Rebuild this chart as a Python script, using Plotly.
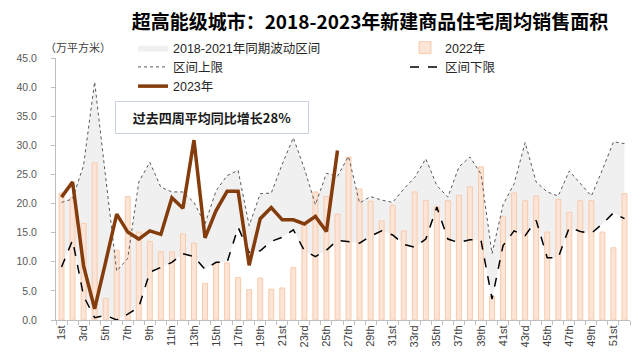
import plotly.graph_objects as go

# ---- data ----
week_labels = ["1st", "2nd", "3rd"] + [f"{i}th" for i in range(4, 21)] + ["21st", "22nd", "23rd"] + \
              [f"{i}th" for i in range(24, 31)] + ["31st", "32nd", "33rd"] + [f"{i}th" for i in range(34, 41)] + \
              ["41st", "42nd", "43rd"] + [f"{i}th" for i in range(44, 51)] + ["51st", "52nd"]
tick_labels = ["1st", "3rd", "5th", "7th", "9th", "11th", "13th", "15th", "17th", "19th", "21st", "23rd",
               "25th", "27th", "29th", "31st", "33rd", "35th", "37th", "39th", "41st", "43rd", "45th",
               "47th", "49th", "51st"]

sales_2022 = [21.8, 21.0, 16.6, 27.0, 3.7, 12.0, 21.2, 15.1, 13.5, 11.7, 11.7, 14.8, 13.2, 6.3, 9.8, 9.8,
              7.3, 5.2, 7.2, 5.3, 5.5, 9.0, 16.7, 22.0, 21.2, 18.2, 28.0, 22.5, 20.4, 17.0, 19.7, 15.3,
              22.0, 20.5, 19.4, 20.5, 21.4, 22.9, 26.3, 4.0, 17.8, 21.8, 20.5, 21.3, 15.1, 20.7, 18.5,
              20.5, 20.5, 15.1, 12.4, 21.7]
upper_2018_2021 = [20.2, 20.8, 26.6, 40.9, 24.5, 8.4, 10.6, 23.7, 27.1, 22.8, 22.0, 22.0, 20.2, 16.5,
                   22.2, 24.8, 25.7, 16.2, 21.7, 21.8, 26.8, 31.3, 26.0, 19.8, 25.2, 24.7, 28.1, 20.1,
                   21.2, 20.6, 20.2, 22.5, 24.5, 27.7, 23.1, 21.1, 26.3, 28.0, 25.1, 11.4, 19.8, 23.4,
                   30.5, 23.7, 22.0, 21.3, 25.6, 23.4, 21.3, 25.8, 30.6, 30.3]
lower_2018_2021 = [9.1, 13.7, 4.1, 0.4, 0.8, 0.0, 1.0, 2.2, 8.2, 9.0, 9.9, 11.4, 10.9, 8.7, 9.9, 9.9,
                   15.9, 11.6, 11.9, 13.5, 14.2, 15.5, 11.9, 10.9, 12.0, 13.7, 13.5, 13.2, 14.4, 15.3,
                   14.6, 13.0, 12.5, 13.9, 19.4, 13.9, 13.3, 13.8, 13.7, 3.6, 12.8, 15.3, 14.5, 17.1,
                   10.7, 10.7, 15.9, 15.2, 14.9, 16.5, 18.4, 17.4]
sales_2023 = [21.1, 23.7, 9.3, 1.9, 10.0, 18.2, 15.1, 13.9, 15.3, 14.7, 21.0, 19.2, 30.9, 14.1, 18.8,
              22.1, 22.1, 9.4, 17.4, 19.3, 17.2, 17.2, 16.5, 17.8, 15.2, 29.1]

x_all = [week_labels.index(w) + 1 for w in week_labels]
x_2023 = x_all[:len(sales_2023)]
tick_pos = [week_labels.index(t) + 1 for t in tick_labels]

FONT = "Liberation Sans, Arial, Noto Sans CJK SC, sans-serif"
CJK = "Noto Sans CJK SC, Liberation Sans, sans-serif"

fig = go.Figure()
# band (base axis, drawn underneath the bars)
fig.add_trace(go.Scatter(x=x_all, y=lower_2018_2021, mode="lines", line=dict(width=0, color="#f0f0f0"),
                         showlegend=False, hoverinfo="skip"))
fig.add_trace(go.Scatter(x=x_all, y=upper_2018_2021, mode="lines", line=dict(width=0, color="#f0f0f0"),
                         fill="tonexty", fillcolor="#f0f0f0", name="2018-2021年同期波动区间",
                         legend="legend"))
# overlay axis (drawn above the band)
fig.add_trace(go.Bar(x=x_all, y=sales_2022, width=0.45, name="2022年", yaxis="y2", legend="legend2",
                     marker=dict(color="#fce4d6", line=dict(color="#f8cbad", width=1))))
fig.add_trace(go.Scatter(x=x_all, y=upper_2018_2021, mode="lines", name="区间上限", yaxis="y2",
                         legend="legend", line=dict(color="#595959", width=1, dash="dot")))
fig.add_trace(go.Scatter(x=x_all, y=lower_2018_2021, mode="lines", name="区间下限", yaxis="y2",
                         legend="legend2", line=dict(color="#000000", width=1.5, dash="dash")))
fig.add_trace(go.Scatter(x=x_2023, y=sales_2023, mode="lines", name="2023年", yaxis="y2",
                         legend="legend", line=dict(color="#843c0c", width=3.5)))

L, R, T, B = 56, 10, 58, 40
W, H = 640, 360
pw, ph = W - L - R, H - T - B
def px(xp): return (xp - L) / pw
def py(yp): return (H - B - yp) / ph

leg_common = dict(orientation="v", xanchor="left", yanchor="top", traceorder="normal",
                  font=dict(family=FONT, size=12.5, color="#262626"), bgcolor="rgba(0,0,0,0)",
                  itemclick=False, tracegroupgap=0)

fig.update_layout(
    width=W, height=H, margin=dict(l=L, r=R, t=T, b=B),
    paper_bgcolor="white", plot_bgcolor="white",
    font=dict(family=FONT, size=11, color="#404040"),
    showlegend=True,
    legend=dict(x=px(133), y=py(33), **leg_common),
    legend2=dict(x=px(405), y=py(33), **leg_common),
    xaxis=dict(range=[0.5, 52.5], tickmode="array", tickvals=tick_pos, ticktext=tick_labels,
               tickangle=-90, ticks="", showline=True, linecolor="#bfbfbf", showgrid=False,
               zeroline=False, tickfont=dict(size=11, color="#404040"),
               minor=dict(tickmode="linear", tick0=0.5, dtick=1, ticks="outside", ticklen=4,
                          tickcolor="#bfbfbf", showgrid=False)),
    yaxis=dict(range=[0, 45], tickmode="linear", tick0=0, dtick=5, tickformat=".1f",
               ticks="outside", ticklen=4, tickcolor="#bfbfbf", showline=True, linecolor="#bfbfbf",
               showgrid=False, zeroline=False, tickfont=dict(size=10.5, color="#595959"),
               ticklabelstandoff=12),
    yaxis2=dict(range=[0, 45], overlaying="y", visible=False),
    title=dict(text="<b>超高能级城市：2018-2023年新建商品住宅周均销售面积</b>",
               x=370 / W, xanchor="center", y=1 - 22 / H, yanchor="middle",
               font=dict(family=CJK, size=19, color="#000000")),
)

fig.add_annotation(xref="paper", yref="paper", x=px(43), y=py(47), xanchor="left", yanchor="middle",
                   text="（万平方米）", showarrow=False, font=dict(family=CJK, size=11, color="#404040"))
fig.add_annotation(xref="paper", yref="paper", x=px(212), y=py(117), xanchor="center", yanchor="middle",
                   text="<b>过去四周平均同比增长28%</b>", showarrow=False, width=186, height=25,
                   bgcolor="white", bordercolor="#c9d3df", borderwidth=1, borderpad=3,
                   font=dict(family=CJK, size=13, color="#1a1a1a"))

fig.write_html("out.html", config={"displayModeBar": False},
               post_script="document.body.style.margin='0';")
